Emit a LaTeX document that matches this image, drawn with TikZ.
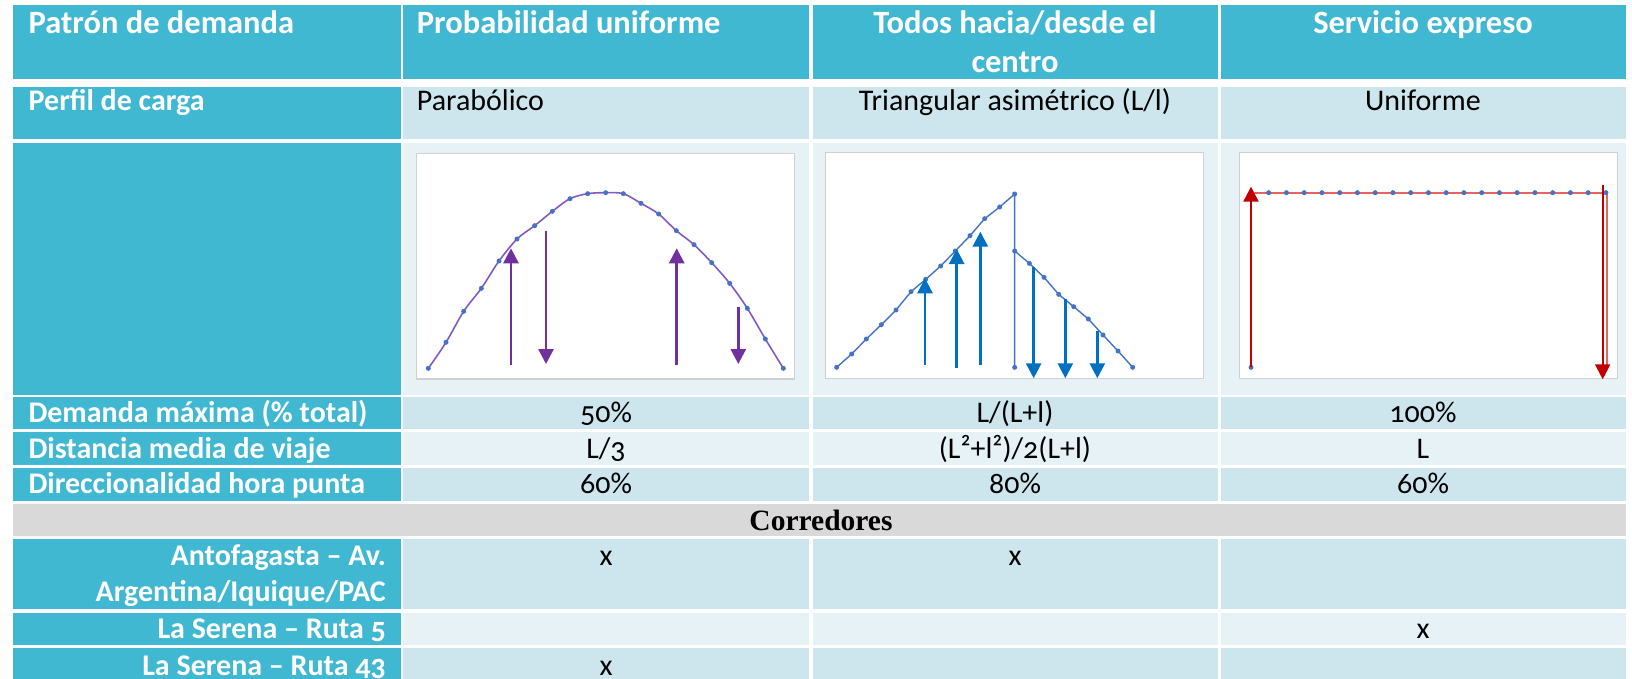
\documentclass[tikz,border=0pt]{standalone}
\usepackage{fontspec}
\setmainfont{Carlito}[Numbers=OldStyle]
\newfontfamily\corfont{Liberation Serif}
\usetikzlibrary{arrows.meta}
\definecolor{hdr}{RGB}{65,184,210}
\definecolor{rowA}{RGB}{205,230,237}
\definecolor{rowB}{RGB}{231,242,247}
\definecolor{rowG}{RGB}{217,217,217}
\definecolor{boxline}{RGB}{208,208,208}
\definecolor{purp}{RGB}{112,48,160}
\definecolor{purpline}{RGB}{130,90,195}
\definecolor{dotblue}{RGB}{68,114,196}
\definecolor{arrblue}{RGB}{0,112,192}
\definecolor{dred}{RGB}{192,0,0}
\definecolor{lred}{RGB}{228,100,100}
\begin{document}
\begin{tikzpicture}[x=1pt,y=-1pt,
  hdrtext/.style={font=\fontsize{32.5}{38}\selectfont\bfseries, text=white, inner sep=0pt},
  lbl/.style={font=\fontsize{30}{36}\selectfont\bfseries, text=white, inner sep=0pt},
  val/.style={font=\fontsize{30}{36}\selectfont, text=black, inner sep=0pt},
  framebox/.style={draw=boxline, fill=white, line width=1.2pt},
  purarrow/.style={draw=purp, line width=2.7pt, -{Triangle[width=15pt,length=15pt]}},
  bluarrow/.style={draw=arrblue, line width=2.5pt, -{Triangle[width=15pt,length=15pt]}},
  redarrow/.style={draw=dred, line width=2.2pt, -{Triangle[width=15pt,length=15pt]}}]
\useasboundingbox (0,0) rectangle (1632,679);
\fill[white] (0,0) rectangle (1632,679);
% header row
\fill[hdr] (13,5) rectangle (400.7,79);
\fill[hdr] (403.3,5) rectangle (809,79);
\fill[hdr] (812.5,5) rectangle (1217.5,79);
\fill[hdr] (1220.5,5) rectangle (1626,79);
% body rows
\foreach \ya/\yb/\c in {87.3/139.5/A, 142.7/395/B, 396.7/429/A, 432/465/B, 468/500.7/A, 539/609.3/A, 612.7/645/B, 648.3/690/A}{
  \fill[hdr] (13,\ya) rectangle (400.7,\yb);
  \fill[fill=row\c] (403.3,\ya) rectangle (809,\yb);
  \fill[fill=row\c] (812.5,\ya) rectangle (1217.5,\yb);
  \fill[fill=row\c] (1220.5,\ya) rectangle (1626,\yb);
}
\fill[rowG] (13,504) rectangle (1626,535.7);

% header texts
\node[hdrtext, anchor=base west] (h1) at (28.5,33.3) {Patrón de demanda};
\node[hdrtext, anchor=base west] (h2) at (416.7,33.3) {Probabilidad uniforme};
\node[hdrtext, anchor=base] (h3a) at (1015,33.3) {Todos hacia/desde el};
\node[hdrtext, anchor=base] (h3b) at (1015,72.7) {centro};
\node[hdrtext, anchor=base] (h4) at (1423,33.3) {Servicio expreso};

% perfil row
\node[lbl, anchor=base west] (p1) at (28.5,110.7) {Perfil de carga};
\node[val, anchor=base west] (p2) at (416.7,110.7) {Parabólico};
\node[val, anchor=base] (p3) at (1015,110.7) {Triangular asimétrico (L/l)};
\node[val, anchor=base] (p4) at (1423,110.7) {Uniforme};

% chart 1: parabolic
\draw[framebox] (416.7,153.3) rectangle (794.3,379);
\draw[purpline, line width=1.6pt] plot[smooth, tension=0.5] coordinates {(428.33,368.33) (446,342.33) (463.67,311.33) (481.33,288.33) (499,261) (517,239) (534.67,225.67) (552.33,211.33) (570,198.67) (587.67,193.67) (605.67,192.67) (623.33,193.67) (641,203.33) (658.67,214) (676.33,230.67) (694,244.67) (711.67,262.67) (729.67,283.33) (747.33,308.33) (765.33,339) (783.33,368.33)};
\foreach \x/\y in {428.33/368.33, 446/342.33, 463.67/311.33, 481.33/288.33, 499/261, 517/239, 534.67/225.67, 552.33/211.33, 570/198.67, 587.67/193.67, 605.67/192.67, 623.33/193.67, 641/203.33, 658.67/214, 676.33/230.67, 694/244.67, 711.67/262.67, 729.67/283.33, 747.33/308.33, 765.33/339, 783.33/368.33}
  \fill[dotblue] (\x,\y) circle (2.5);
\draw[purarrow] (511,365) -- (511,248.3);
\draw[purarrow] (546,230.7) -- (546,364);
\draw[purarrow] (676.7,365) -- (676.7,248.3);
\draw[purarrow] (738.3,306.7) -- (738.3,364);

% chart 2: triangular
\draw[framebox] (825.7,152.7) rectangle (1203.3,378.3);
\draw[dotblue, line width=1.4pt] (836.67,367.33) -- (851.67,354) -- (866.33,339) -- (881.33,324.67) -- (896,310) -- (911,291.67) -- (925.67,279.33) -- (940.67,266) -- (955.33,251) -- (970,235.67) -- (984.67,218.67) -- (999.67,207) -- (1014.67,194) -- (1014.67,367.33);
\draw[dotblue, line width=1.4pt] (1014.67,251) -- (1029.33,263.33) -- (1044,277.33) -- (1058.67,294.33) -- (1073.67,306.67) -- (1088.33,319) -- (1103,335) -- (1118,351) -- (1132.67,367.33);
\foreach \x/\y in {836.67/367.33, 851.67/354, 866.33/339, 881.33/324.67, 896/310, 911/291.67, 925.67/279.33, 940.67/266, 955.33/251, 970/235.67, 984.67/218.67, 999.67/207, 1014.67/194, 1014.67/367.33, 1014.67/251, 1029.33/263.33, 1044/277.33, 1058.67/294.33, 1073.67/306.67, 1088.33/319, 1103/335, 1118/351, 1132.67/367.33}
  \fill[dotblue] (\x,\y) circle (2.5);
\draw[bluarrow] (925,365) -- (925,278.3);
\draw[bluarrow] (956.67,367.67) -- (956.67,249);
\draw[bluarrow] (980.33,365) -- (980.33,231.67);
\draw[bluarrow] (1033.67,266.67) -- (1033.67,378.3);
\draw[bluarrow] (1065.33,299) -- (1065.33,378.3);
\draw[bluarrow] (1097.33,331) -- (1097.33,378.3);

% chart 3: uniform
\draw[framebox] (1239.3,152.3) rectangle (1617.3,378.3);
\draw[lred, line width=2pt] (1251,367.33) -- (1251,192.67) -- (1606.67,192.67) -- (1606.67,367.33);
\foreach \k in {0,...,19}
  \fill[dotblue] (1268.67+17.75*\k,192.67) circle (2.5);
\fill[dotblue] (1251,367.33) circle (2.5);
\draw[redarrow] (1251,367.33) -- (1251,186.67);
\draw[redarrow] (1602.67,185) -- (1602.67,379.3);

% value rows
\node[lbl, anchor=base west] (d1) at (28.3,422.3) {Demanda máxima (\% total)};
\node[val, anchor=base] (d2) at (606,422.3) {50\%};
\node[val, anchor=base] (d3) at (1015,422.3) {L/(L+l)};
\node[val, anchor=base] (d4) at (1423,422.3) {100\%};

\node[lbl, anchor=base west] (m1) at (28.3,458.3) {Distancia media de viaje};
\node[val, anchor=base] (m2) at (606,458.3) {L/3};
\node[val, anchor=base] (m3) at (1015,458.3) {(L²+l²)/2(L+l)};
\node[val, anchor=base] (m4) at (1423,458.3) {L};

\node[lbl, anchor=base west] (r1) at (28.3,493.8) {Direccionalidad hora punta};
\node[val, anchor=base] (r2) at (606,493.8) {60\%};
\node[val, anchor=base] (r3) at (1015,493.8) {80\%};
\node[val, anchor=base] (r4) at (1423,493.8) {60\%};

\node[font=\corfont\bfseries\fontsize{29.5}{34}\selectfont, inner sep=0pt, anchor=base] (cor) at (821,530.7) {Corredores};

% corridors
\node[lbl, anchor=base east] (a1) at (386,565) {Antofagasta – Av.};
\node[lbl, anchor=base east] (a1b) at (386,601.7) {Argentina/Iquique/PAC};
\node[val, anchor=base] (a2) at (606,565) {x};
\node[val, anchor=base] (a3) at (1015,565) {x};

\node[lbl, anchor=base east] (s1) at (386,638.3) {La Serena – Ruta 5};
\node[val, anchor=base] (s4) at (1423,638.3) {x};

\node[lbl, anchor=base east] (t1) at (386,675) {La Serena – Ruta 43};
\node[val, anchor=base] (t2) at (606,675) {x};
\end{tikzpicture}
\end{document}
